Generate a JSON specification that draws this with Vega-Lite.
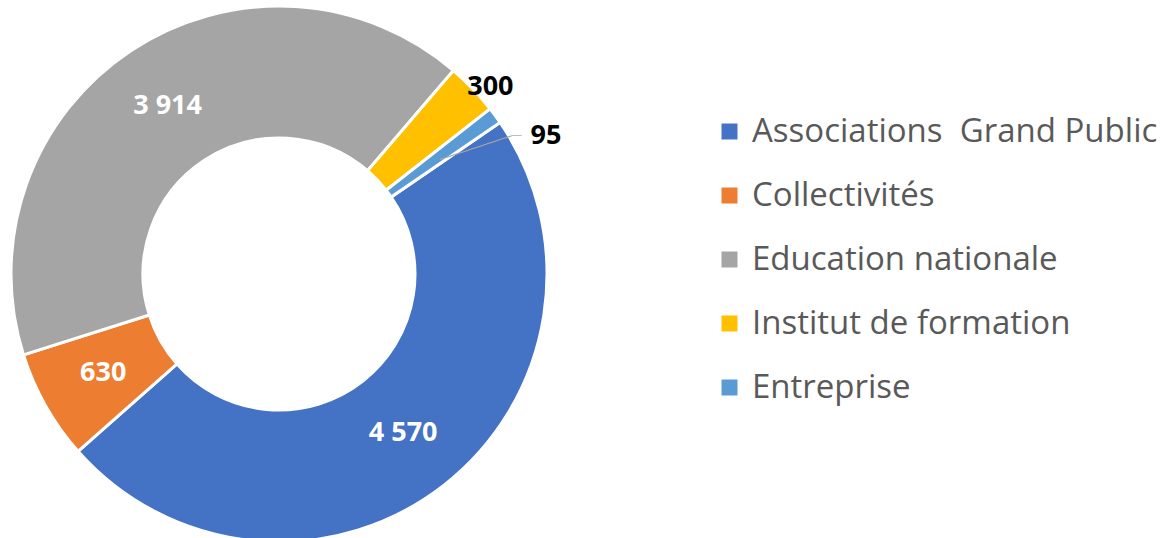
{
  "$schema": "https://vega.github.io/schema/vega-lite/v6.json",
  "width": 558,
  "height": 538,
  "padding": 0,
  "autosize": {"type": "pad"},
  "background": "white",
  "config": {
    "view": {"stroke": null},
    "locale": {"number": {"decimal": ",", "thousands": " ", "grouping": [3], "currency": ["", " €"]}}
  },
  "data": {
    "values": [
      {"cat": "Associations\u00a0 Grand Public", "value": 4570, "idx": 1},
      {"cat": "Collectivités", "value": 630, "idx": 2},
      {"cat": "Education nationale", "value": 3914, "idx": 3},
      {"cat": "Institut de formation", "value": 300, "idx": 4},
      {"cat": "Entreprise", "value": 95, "idx": 5}
    ]
  },
  "encoding": {
    "theta": {"field": "value", "type": "quantitative", "stack": true, "scale": {"range": [0.970, 7.253]}},
    "order": {"field": "idx", "type": "quantitative"}
  },
  "layer": [
    {
      "mark": {"type": "arc", "innerRadius": 136, "outerRadius": 268, "stroke": "white", "strokeWidth": 3},
      "encoding": {
        "color": {
          "field": "cat",
          "type": "nominal",
          "scale": {
            "domain": ["Associations\u00a0 Grand Public", "Collectivités", "Education nationale", "Institut de formation", "Entreprise"],
            "range": ["#4472C4", "#ED7D31", "#A5A5A5", "#FFC000", "#5B9BD5"]
          },
          "legend": {
            "title": null,
            "orient": "none",
            "legendX": 713,
            "legendY": 110,
            "symbolType": "square",
            "symbolSize": 256,
            "symbolStrokeWidth": 0,
            "labelFont": "Open Sans",
            "labelFontSize": 33,
            "labelColor": "#595959",
            "labelOffset": 6,
            "labelLimit": 600,
            "rowPadding": 30
          }
        }
      }
    },
    {
      "mark": {"type": "text", "radius": 202, "font": "Open Sans", "fontWeight": "bold", "fontSize": 27, "color": "white"},
      "encoding": {
        "text": {"field": "value", "type": "quantitative", "format": ",", "condition": {"test": "datum.value < 500", "value": ""}}
      }
    },
    {
      "mark": {"type": "text", "radius": 280, "dx": 9, "dy": 6, "font": "Open Sans", "fontWeight": "bold", "fontSize": 27, "color": "black"},
      "encoding": {
        "text": {"field": "value", "type": "quantitative", "format": ",", "condition": {"test": "datum.value != 300", "value": ""}}
      }
    },
    {
      "mark": {"type": "text", "radius": 300, "dx": 25, "dy": 39, "font": "Open Sans", "fontWeight": "bold", "fontSize": 27, "color": "black"},
      "encoding": {
        "text": {"field": "value", "type": "quantitative", "format": ",", "condition": {"test": "datum.value != 95", "value": ""}}
      }
    },
    {
      "mark": {"type": "text", "radius": 234, "angle": -18.4, "dx": 3.8, "dy": 14.1, "font": "DejaVu Sans Mono", "fontSize": 12.5, "baseline": "middle", "align": "center", "color": "#A6A6A6"},
      "encoding": {
        "text": {"condition": {"test": "datum.value == 95", "value": "──────────"}, "value": ""}
      }
    },
    {
      "mark": {"type": "text", "radius": 270, "dx": 20, "dy": 21.5, "font": "DejaVu Sans Mono", "fontSize": 8, "baseline": "middle", "align": "center", "color": "#A6A6A6"},
      "encoding": {
        "text": {"condition": {"test": "datum.value == 95", "value": "──"}, "value": ""}
      }
    }
  ]
}
